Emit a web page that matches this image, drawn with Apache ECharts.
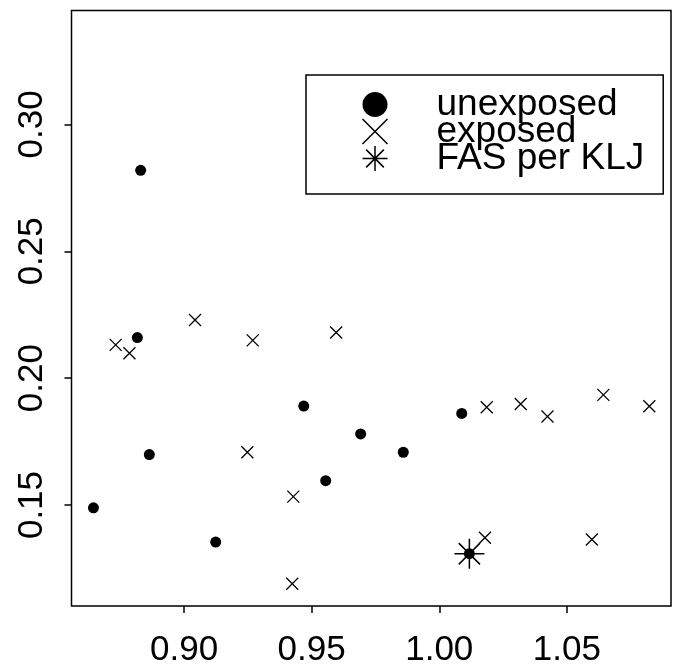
<!DOCTYPE html>
<html>
<head>
<meta charset="utf-8">
<script src="https://cdn.jsdelivr.net/npm/echarts@6/dist/echarts.min.js"></script>
<style>
html,body{margin:0;padding:0;background:#fff;}
#chart{width:679px;height:668px;}
</style>
</head>
<body>
<div id="chart"></div>
<script>
// ---- data ----
const unexposedX = [0.8830, 0.8817, 0.9469, 0.9692, 0.8864, 0.9555, 0.8645, 0.9124, 0.9859, 1.0088, 1.0118];
const unexposedY = [0.2819, 0.2160, 0.1890, 0.1780, 0.1699, 0.1596, 0.1489, 0.1354, 0.1708, 0.1861, 0.1308];
const exposedX = [0.9043, 0.8732, 0.8786, 0.9269, 0.9596, 0.9248, 0.9428, 0.9424, 1.0186, 1.0319, 1.0424, 1.0643, 1.0823, 1.0179, 1.0598];
const exposedY = [0.2229, 0.2131, 0.2098, 0.2149, 0.2180, 0.1708, 0.1533, 0.1190, 0.1885, 0.1898, 0.1849, 0.1934, 0.1889, 0.1371, 0.1364];
const fasX = [1.0118];
const fasY = [0.1308];
const xTicks = [0.90, 0.95, 1.00, 1.05];
const yTicks = [0.15, 0.20, 0.25, 0.30];
const seriesNames = ['unexposed', 'exposed', 'FAS per KLJ'];

const FONT = '"Liberation Sans", Arial, Helvetica, sans-serif';
const crossPath = 'path://M0,0L10,10M10,0L0,10';
const starPath = 'path://M0,5L10,5M5,0L5,10M1.46,1.46L8.54,8.54M8.54,1.46L1.46,8.54';

function zip(xs, ys) { return xs.map((x, i) => [x, ys[i]]); }

const chart = echarts.init(document.getElementById('chart'), null, {renderer: 'canvas'});
chart.setOption({
  animation: false,
  backgroundColor: '#fff',
  grid: {
    left: 71.5, top: 10.5, right: 8, bottom: 60.5,
    show: true, borderColor: '#000', borderWidth: 1.5, backgroundColor: 'transparent'
  },
  xAxis: {
    type: 'value', min: 0.8559, max: 1.0908,
    axisLine: {show: false},
    splitLine: {show: false},
    axisTick: {show: true, length: 7, lineStyle: {color: '#000', width: 1.5}, customValues: xTicks},
    axisLabel: {
      customValues: xTicks,
      formatter: v => v.toFixed(2),
      color: '#000', fontSize: 35, fontFamily: FONT, margin: 27
    }
  },
  yAxis: {
    type: 'value', min: 0.1102, max: 0.3449,
    axisLine: {show: false},
    splitLine: {show: false},
    axisTick: {show: true, length: 7, lineStyle: {color: '#000', width: 1.5}, customValues: yTicks},
    axisLabel: {
      customValues: yTicks,
      rotate: 90,
      formatter: v => v.toFixed(2),
      color: '#000', fontSize: 35, fontFamily: FONT, margin: 22
    }
  },
  legend: {
    orient: 'vertical',
    left: 306, top: 75,
    borderColor: '#000', borderWidth: 1.5,
    padding: [11, 19, 17, 54],
    itemWidth: 25, itemHeight: 25, itemGap: -10,
    textStyle: {fontSize: 37, fontFamily: FONT, color: '#000', lineHeight: 26, padding: [0, 0, 0, 44]},
    data: [
      {name: seriesNames[0], icon: 'circle', itemStyle: {color: '#000'}},
      {name: seriesNames[1], icon: crossPath, itemStyle: {color: 'none', borderColor: '#000', borderWidth: 1.5}},
      {name: seriesNames[2], icon: starPath, itemStyle: {color: 'none', borderColor: '#000', borderWidth: 1.5}}
    ]
  },
  series: [
    {
      name: seriesNames[0], type: 'scatter', data: zip(unexposedX, unexposedY),
      symbol: 'circle', symbolSize: 11,
      itemStyle: {color: '#000', opacity: 1}
    },
    {
      name: seriesNames[1], type: 'scatter', data: zip(exposedX, exposedY),
      symbol: crossPath, symbolSize: 12,
      itemStyle: {color: 'none', borderColor: '#000', borderWidth: 1.3, opacity: 1}
    },
    {
      name: seriesNames[2], type: 'scatter', data: zip(fasX, fasY),
      symbol: starPath, symbolSize: 30,
      itemStyle: {color: 'none', borderColor: '#000', borderWidth: 1.5, opacity: 1}
    }
  ]
});
</script>
</body>
</html>
